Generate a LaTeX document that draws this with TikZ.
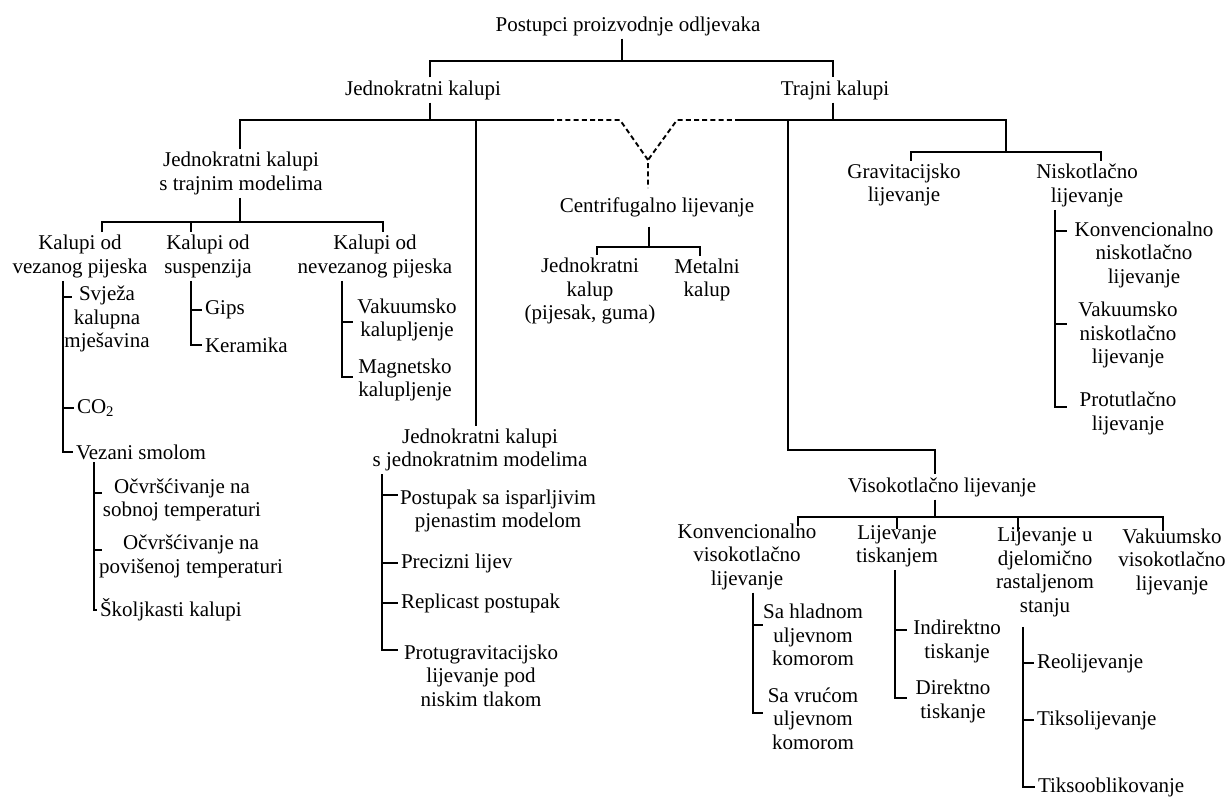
\documentclass[tikz,border=0pt]{standalone}
\usepackage{fontspec}
\setmainfont{Liberation Serif}
\begin{document}
\begin{tikzpicture}[x=1pt,y=-1pt,
  every node/.style={font=\fontsize{21}{23.5}\selectfont, inner sep=0pt, outer sep=3pt, align=center},
  lw/.style={anchor=west},
  ln/.style={line width=1.5pt},
  dsh/.style={line width=1.9pt, dash pattern=on 5pt off 3.2pt},
]
\useasboundingbox (0,0) rectangle (1229,797);

% ---------- nodes ----------
\node (title) at (628,26) {Postupci proizvodnje odljevaka};
\node (jk) at (423,90) {Jednokratni kalupi};
\node (tk) at (835,90) {Trajni kalupi};
\node (jktm) at (241,173.5) {Jednokratni kalupi\\s trajnim modelima};
\node (centr) at (657,207) {Centrifugalno lijevanje};
\node (cjk) at (590,291) {Jednokratni\\kalup\\(pijesak, guma)};
\node (cmk) at (707,280) {Metalni\\kalup};
\node (grav) at (904,185) {Gravitacijsko\\lijevanje};
\node (nisk) at (1087,185.5) {Niskotlačno\\lijevanje};
\node (konvn) at (1144,254.5) {Konvencionalno\\niskotlačno\\lijevanje};
\node (vakn) at (1128,335) {Vakuumsko\\niskotlačno\\lijevanje};
\node (protn) at (1128,413.5) {Protutlačno\\lijevanje};
\node (visok) at (942,487) {Visokotlačno lijevanje};
\node (konvv) at (747,556.5) {Konvencionalno\\visokotlačno\\lijevanje};
\node (tisk) at (897,546.5) {Lijevanje\\tiskanjem};
\node (djel) at (1045,572.5) {Lijevanje u\\djelomično\\rastaljenom\\stanju};
\node (vakv) at (1172,561.5) {Vakuumsko\\visokotlačno\\lijevanje};
\node (hlad) at (813,635) {Sa hladnom\\uljevnom\\komorom};
\node (vruc) at (813,718.5) {Sa vrućom\\uljevnom\\komorom};
\node (indir) at (957,641.5) {Indirektno\\tiskanje};
\node (dir) at (953,701.5) {Direktno\\tiskanje};
\node (jkjm) at (480,450) {Jednokratni kalupi\\s jednokratnim modelima};
\node (post) at (498,511) {Postupak sa isparljivim\\pjenastim modelom};
\node (protug) at (481,675.5) {Protugravitacijsko\\lijevanje pod\\niskim tlakom};
\node (vez) at (80,256.5) {Kalupi od\\vezanog pijeska};
\node (susp) at (208,256.5) {Kalupi od\\suspenzija};
\node (nevez) at (375,256.5) {Kalupi od\\nevezanog pijeska};
\node (svj) at (107,319) {Svježa\\kalupna\\mješavina};
\node (vakk) at (407,320) {Vakuumsko\\kalupljenje};
\node (magk) at (405,380) {Magnetsko\\kalupljenje};
\node (ocv1) at (182,500) {Očvršćivanje na\\sobnoj temperaturi};
\node (ocv2) at (191,556.5) {Očvršćivanje na\\povišenoj temperaturi};

% ---------- junction coordinates ----------
\coordinate (tb) at (622,61);
\coordinate (tbL) at (430,61);
\coordinate (tbR) at (833,61);
\coordinate (mL) at (240,120);
\coordinate (mR) at (1006,120);
\coordinate (jkS) at (430,120);
\coordinate (tkS) at (833,120);
\coordinate (d1) at (549,120);
\coordinate (d2) at (620,120);
\coordinate (dv) at (648,160);
\coordinate (dvE) at (648,188);
\coordinate (d3) at (677,120);
\coordinate (d4) at (740,120);
\coordinate (v1) at (476,120);
\coordinate (v2) at (788,120);
\coordinate (v2b) at (788,450);
\coordinate (v2c) at (935,450);
\coordinate (gb) at (1006,152);
\coordinate (gbL) at (911,152);
\coordinate (gbR) at (1101,152);
\coordinate (cb) at (649,247);
\coordinate (cbL) at (597,247);
\coordinate (cbR) at (700,247);
\coordinate (jb) at (240,222);
\coordinate (jbL) at (102,222);
\coordinate (jbM) at (191,222);
\coordinate (jbR) at (383,222);
\coordinate (vzx) at (63,0);
\coordinate (a1) at (72,297);
\coordinate (a2) at (74,408);
\coordinate (a3) at (73,452);
\coordinate (sx) at (191,0);
\coordinate (s1) at (202,310);
\coordinate (s2) at (202,345);
\coordinate (nx) at (342,0);
\coordinate (n1) at (353,322);
\coordinate (n2) at (353,377);
\coordinate (wx) at (94,0);
\coordinate (w1) at (102,493);
\coordinate (w2) at (102,550);
\coordinate (w3) at (97,610);
\coordinate (px) at (382,0);
\coordinate (p1) at (398,495);
\coordinate (p2) at (398,563);
\coordinate (p3) at (398,603);
\coordinate (p4) at (398,650);
\coordinate (kx) at (1055,0);
\coordinate (k1) at (1067,231);
\coordinate (k2) at (1067,324);
\coordinate (k3) at (1067,407);
\coordinate (hb) at (935,517);
\coordinate (hb1) at (798,517);
\coordinate (hb2) at (897,517);
\coordinate (hb3) at (1018,517);
\coordinate (hb4) at (1163,517);
\coordinate (cx) at (753,0);
\coordinate (c1) at (763,625);
\coordinate (c2) at (763,713);
\coordinate (tx) at (895,0);
\coordinate (t1) at (907,630);
\coordinate (t2) at (907,698);
\coordinate (ex) at (1023,0);
\coordinate (e1) at (1034,663);
\coordinate (e2) at (1034,720);
\coordinate (e3) at (1035,787);

% ---------- left-aligned leaf nodes ----------
\node[lw] (co2) at (a2) {CO\textsubscript{2}};
\node[lw] (vezsm) at (a3) {Vezani smolom};
\node[lw] (gips) at (s1) {Gips};
\node[lw] (keram) at (s2) {Keramika};
\node[lw] (skolj) at (w3) {Školjkasti kalupi};
\node[lw] (prec) at (p2) {Precizni lijev};
\node[lw] (repl) at (p3) {Replicast postupak};
\node[lw] (reo) at (e1) {Reolijevanje};
\node[lw] (tiks) at (e2) {Tiksolijevanje};
\node[lw] (tikob) at (e3) {Tiksooblikovanje};

% ---------- connectors ----------
\draw[ln] (tb |- title.south) -- (tb);
\draw[ln] (tbL |- jk.north) -- (tbL) -- (tbR) -- (tbR |- tk.north);
\draw[ln] (jkS |- jk.south) -- (jkS);
\draw[ln] (tkS |- tk.south) -- (tkS);
\draw[ln] (mL |- jktm.north) -- (mL) -- (d1);
\draw[ln] (d4) -- (mR) -- (gb);
\draw[ln] (gbL |- grav.north) -- (gbL) -- (gbR) -- (gbR |- nisk.north);
\draw[dsh] (d1) -- (d2) -- (dv) -- (dvE);
\draw[dsh] (d4) -- (d3) -- (dv);
\draw[ln] (v1) -- (v1 |- jkjm.north);
\draw[ln] (v2) -- (v2b) -- (v2c) -- (v2c |- visok.north);

% centrifugal
\draw[ln, shorten <=7pt] (cb |- centr.south) -- (cb);
\draw[ln] (cbL |- cjk.north) -- (cbL) -- (cbR) -- (cbR |- cmk.north);

% jednokratni kalupi s trajnim modelima
\draw[ln] (jb |- jktm.south) -- (jb);
\draw[ln] (jbL |- vez.north) -- (jbL) -- (jbR) -- (jbR |- nevez.north);
\draw[ln] (jbM) -- (jbM |- susp.north);

% vezanog pijeska
\draw[ln] (vzx |- vez.south) -- (vzx |- a3) -- (a3);
\draw[ln] (vzx |- a1) -- (a1);
\draw[ln] (vzx |- a2) -- (a2);
% suspenzija
\draw[ln] (sx |- susp.south) -- (sx |- s2) -- (s2);
\draw[ln] (sx |- s1) -- (s1);
% nevezanog pijeska
\draw[ln] (nx |- nevez.south) -- (nx |- n2) -- (n2);
\draw[ln] (nx |- n1) -- (n1);
% vezani smolom
\draw[ln] (wx |- vezsm.south) -- (wx |- w3) -- (w3);
\draw[ln] (wx |- w1) -- (w1);
\draw[ln] (wx |- w2) -- (w2);
% jednokratni kalupi s jednokratnim modelima
\draw[ln] (px |- jkjm.south) -- (px |- p4) -- (p4);
\draw[ln] (px |- p1) -- (p1);
\draw[ln] (px |- p2) -- (p2);
\draw[ln] (px |- p3) -- (p3);
% niskotlacno
\draw[ln] (kx |- nisk.south) -- (kx |- k3) -- (k3);
\draw[ln] (kx |- k1) -- (k1);
\draw[ln] (kx |- k2) -- (k2);
% visokotlacno
\draw[ln] (hb |- visok.south) -- (hb);
\draw[ln, shorten <=-6pt, shorten >=-6pt] (hb1 |- konvv.north) -- (hb1) -- (hb4) -- (hb4 |- vakv.north);
\draw[ln, shorten >=-6pt] (hb2) -- (hb2 |- tisk.north);
\draw[ln, shorten >=-6pt] (hb3) -- (hb3 |- djel.north);
% konvencionalno visokotlacno
\draw[ln] (cx |- konvv.south) -- (cx |- c2) -- (c2);
\draw[ln] (cx |- c1) -- (c1);
% tiskanjem
\draw[ln] (tx |- tisk.south) -- (tx |- t2) -- (t2);
\draw[ln] (tx |- t1) -- (t1);
% djelomicno rastaljeno
\draw[ln, shorten <=7pt] (ex |- djel.south) -- (ex |- e3) -- (e3);
\draw[ln] (ex |- e1) -- (e1);
\draw[ln] (ex |- e2) -- (e2);
\end{tikzpicture}
\end{document}
